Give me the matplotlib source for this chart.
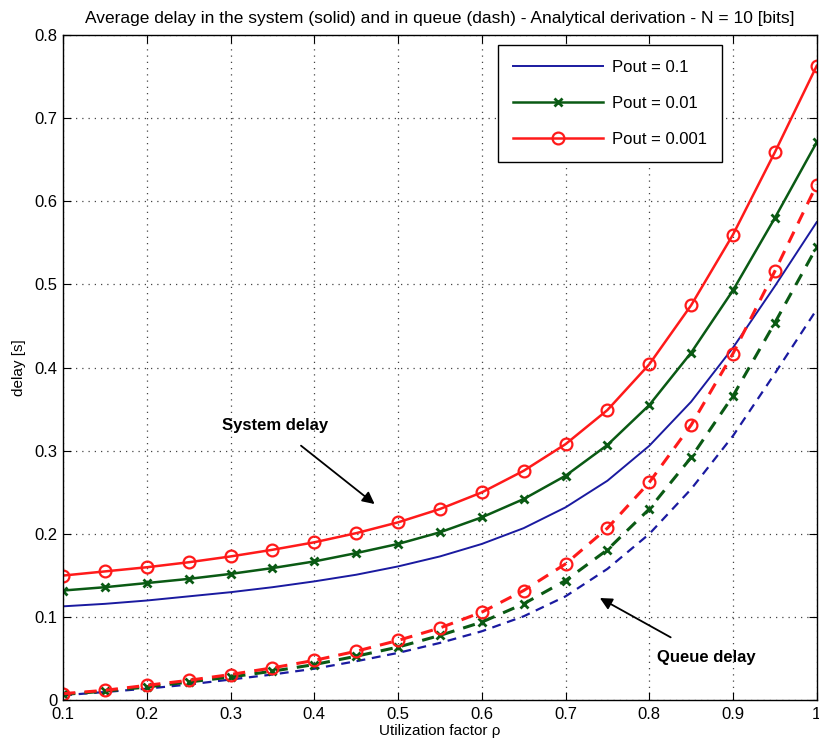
import numpy as np
import matplotlib
matplotlib.use("Agg")
import matplotlib.pyplot as plt

plt.rcParams['font.family'] = ['Liberation Sans', 'DejaVu Sans']

rho = np.array([0.1, 0.15, 0.2, 0.25, 0.3, 0.35, 0.4, 0.45, 0.5, 0.55,
                0.6, 0.65, 0.7, 0.75, 0.8, 0.85, 0.9, 0.95, 1.0])

# system delay (solid)
sys_01 = [0.113, 0.116, 0.120, 0.125, 0.130, 0.136, 0.143, 0.151, 0.161, 0.173,
          0.188, 0.207, 0.232, 0.264, 0.306, 0.359, 0.424, 0.498, 0.575]
sys_001 = [0.132, 0.136, 0.141, 0.146, 0.152, 0.159, 0.167, 0.177, 0.188, 0.202,
           0.220, 0.242, 0.270, 0.307, 0.355, 0.418, 0.493, 0.580, 0.671]
sys_0001 = [0.150, 0.155, 0.160, 0.166, 0.173, 0.181, 0.190, 0.201, 0.214, 0.230,
            0.250, 0.276, 0.308, 0.349, 0.404, 0.475, 0.560, 0.659, 0.763]

# queue delay (dash)
q_01 = [0.006, 0.010, 0.014, 0.019, 0.025, 0.031, 0.038, 0.047, 0.057, 0.069,
        0.083, 0.101, 0.125, 0.158, 0.200, 0.254, 0.318, 0.393, 0.470]
q_001 = [0.007, 0.011, 0.016, 0.022, 0.028, 0.035, 0.043, 0.053, 0.064, 0.078,
         0.094, 0.116, 0.144, 0.181, 0.230, 0.292, 0.366, 0.454, 0.545]
q_0001 = [0.008, 0.012, 0.018, 0.024, 0.031, 0.039, 0.048, 0.059, 0.072, 0.087,
          0.106, 0.132, 0.164, 0.207, 0.262, 0.331, 0.417, 0.516, 0.620]

labels = ['Pout = 0.1', 'Pout = 0.01', 'Pout = 0.001']
blue = '#1a1aa0'
green = '#0a5a14'
red = '#ff1a1a'

fig = plt.figure(figsize=(8.2, 7.45), dpi=100)
ax = fig.add_axes([0.077, 0.060, 0.919, 0.893])

ax.plot(rho, sys_01, '-', color=blue, lw=1.4, label=labels[0])
ax.plot(rho, sys_001, '-x', color=green, lw=1.8, ms=6, mew=2, label=labels[1])
ax.plot(rho, sys_0001, '-o', color=red, lw=1.8, ms=8.5, mew=1.6, mfc='none', label=labels[2])

ax.plot(rho, q_01, '--', color=blue, lw=1.6, dashes=(4, 3))
ax.plot(rho, q_001, '--x', color=green, lw=2.2, ms=6, mew=2, dashes=(4, 3))
ax.plot(rho, q_0001, '--o', color=red, lw=2.2, ms=8.5, mew=1.6, mfc='none', dashes=(4, 3))

ax.set_xlim(0.1, 1)
ax.set_ylim(0, 0.8)
ax.set_xticks(np.arange(0.1, 1.01, 0.1))
ax.set_xticklabels(['0.1', '0.2', '0.3', '0.4', '0.5', '0.6', '0.7', '0.8', '0.9', '1'])
ax.set_yticks(np.arange(0, 0.81, 0.1))
ax.set_yticklabels(['0', '0.1', '0.2', '0.3', '0.4', '0.5', '0.6', '0.7', '0.8'])
ax.tick_params(direction='in', top=True, right=True, length=6, labelsize=12)
ax.tick_params(axis='x', pad=5)
ax.tick_params(axis='y', pad=4)
ax.grid(True, linestyle=(0, (1, 4)), color='#444444', lw=0.9)
for s in ax.spines.values():
    s.set_linewidth(1.0)

ax.set_xlabel('Utilization factor ρ', fontsize=11, labelpad=1)
ax.set_ylabel('delay [s]', fontsize=11, labelpad=6)
ax.set_title('Average delay in the system (solid) and in queue (dash) - Analytical derivation - N = 10 [bits]',
             fontsize=12.5, pad=9)

leg = ax.legend(loc='upper right', bbox_to_anchor=(0.874, 0.985), borderaxespad=0,
                fontsize=12, fancybox=False, edgecolor='black', framealpha=1,
                handlelength=5.4, labelspacing=1.25, borderpad=0.9, handletextpad=0.5)
leg.get_frame().set_linewidth(1.0)

ax.annotate('System delay', xy=(0.472, 0.236), xytext=(0.353, 0.331),
            fontsize=12, fontweight='bold', ha='center', va='center',
            arrowprops=dict(arrowstyle='-|>', color='black', lw=1.3,
                            mutation_scale=18, shrinkA=12, shrinkB=0))
ax.annotate('Queue delay', xy=(0.741, 0.123), xytext=(0.868, 0.052),
            fontsize=12, fontweight='bold', ha='center', va='center',
            arrowprops=dict(arrowstyle='-|>', color='black', lw=1.3,
                            mutation_scale=18, shrinkA=14, shrinkB=0))

fig.savefig('out.png', dpi=100)
